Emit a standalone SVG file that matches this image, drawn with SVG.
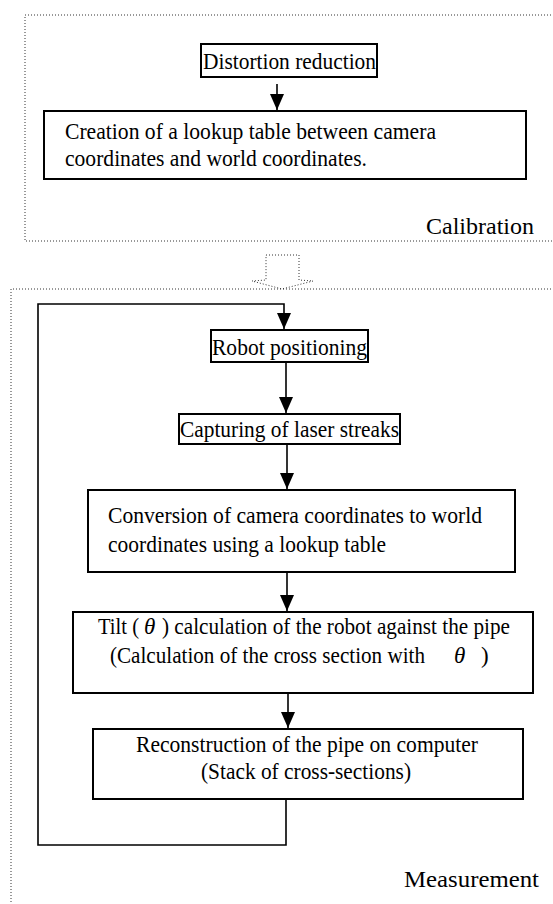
<svg xmlns="http://www.w3.org/2000/svg" width="553" height="904" viewBox="0 0 553 904">
<style>
text{font-family:"Liberation Serif","Times New Roman",serif;font-size:23px;fill:#000}
.box{fill:#fff;stroke:#000;stroke-width:2}
.dot{fill:none;stroke:#333;stroke-width:1;stroke-dasharray:1,2}
.con{fill:none;stroke:#000;stroke-width:1.6}
.lbl{font-size:24px}
.th{font-style:italic}
</style>
<defs>
<marker id="ah" markerUnits="userSpaceOnUse" markerWidth="16" markerHeight="17" viewBox="0 0 16 14" refX="16" refY="7" orient="auto">
<path d="M0,0 L16,7 L0,14 Z" fill="#000"/>
</marker>
</defs>
<rect width="553" height="904" fill="#fff"/>
<g id="calibration">
<path class="dot" d="M554,15 L25,15 L25,241 L554,241"/>
<text class="lbl" x="426" y="234" textLength="108" lengthAdjust="spacingAndGlyphs">Calibration</text>
</g>
<g id="phase-arrow">
<path class="dot" d="M266,255 L299,255 L299,280 L313,281 L282,289 L252,281 L266,280 Z"/>
</g>
<g id="measurement">
<path class="dot" d="M554,289 L11,289 L11,905"/>
<text class="lbl" x="404" y="887" textLength="135" lengthAdjust="spacingAndGlyphs">Measurement</text>
</g>
<g id="distortion">
<rect class="box" x="201" y="44" width="176" height="33"/>
<text x="203" y="69" textLength="173" lengthAdjust="spacingAndGlyphs">Distortion reduction</text>
</g>
<g id="lookup">
<rect class="box" x="44" y="111" width="482" height="68"/>
<text x="65" y="139" textLength="371" lengthAdjust="spacingAndGlyphs">Creation of a lookup table between camera</text>
<text x="65" y="166" textLength="302" lengthAdjust="spacingAndGlyphs">coordinates and world coordinates.</text>
</g>
<g id="robot">
<rect class="box" x="211" y="330" width="157" height="32"/>
<text x="212" y="355" textLength="155" lengthAdjust="spacingAndGlyphs">Robot positioning</text>
</g>
<g id="capturing">
<rect class="box" x="179" y="414" width="221" height="30"/>
<text x="180" y="437" textLength="219" lengthAdjust="spacingAndGlyphs">Capturing of laser streaks</text>
</g>
<g id="conversion">
<rect class="box" x="88" y="490" width="427" height="82"/>
<text x="108" y="523" textLength="374" lengthAdjust="spacingAndGlyphs">Conversion of camera coordinates to world</text>
<text x="108" y="552" textLength="278" lengthAdjust="spacingAndGlyphs">coordinates using a lookup table</text>
</g>
<g id="tilt">
<rect class="box" x="73" y="612" width="460" height="81"/>
<text x="98" y="634" textLength="41" lengthAdjust="spacingAndGlyphs">Tilt (</text>
<text class="th" x="144" y="634">θ</text>
<text x="162" y="634" textLength="348" lengthAdjust="spacingAndGlyphs">) calculation of the robot against the pipe</text>
<text x="110" y="663" textLength="315" lengthAdjust="spacingAndGlyphs">(Calculation of the cross section with</text>
<text class="th" x="454" y="663">θ</text>
<text x="481" y="663">)</text>
</g>
<g id="reconstruction">
<rect class="box" x="93" y="729" width="430" height="70"/>
<text x="136" y="752" textLength="342" lengthAdjust="spacingAndGlyphs">Reconstruction of the pipe on computer</text>
<text x="201" y="779" textLength="210" lengthAdjust="spacingAndGlyphs">(Stack of cross-sections)</text>
</g>
<g id="connectors">
<line class="con" x1="277" y1="84" x2="277" y2="110" marker-end="url(#ah)"/>
<polyline class="con" points="286,800 286,845 38,845 38,304 284,304 284,329" marker-end="url(#ah)"/>
<line class="con" x1="286" y1="362" x2="286" y2="413" marker-end="url(#ah)"/>
<line class="con" x1="287" y1="444" x2="287" y2="489" marker-end="url(#ah)"/>
<line class="con" x1="287" y1="572" x2="287" y2="611" marker-end="url(#ah)"/>
<line class="con" x1="288" y1="693" x2="288" y2="728" marker-end="url(#ah)"/>
</g>
</svg>
